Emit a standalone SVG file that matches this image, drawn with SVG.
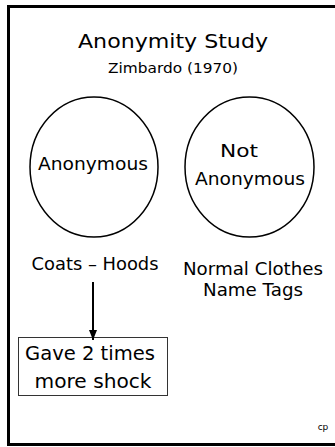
<svg xmlns="http://www.w3.org/2000/svg" width="335" height="447" viewBox="0 0 335 447">
<style>
text{font-family:"DejaVu Sans","Liberation Sans",sans-serif;fill:#000;text-anchor:middle}
.node{fill:#fff;stroke:#000;stroke-width:1.5}
</style>
<defs>
<marker id="ah" markerWidth="10" markerHeight="8" refX="10" refY="4" orient="auto" markerUnits="userSpaceOnUse" viewBox="0 0 10 8">
<path d="M0,0 L10,4 L0,8 Z" fill="#000"/>
</marker>
</defs>
<rect x="0" y="0" width="335" height="447" fill="#fff"/>
<path d="M335,6.5 H8.5 V444.5 H335" fill="none" stroke="#000" stroke-width="3"/>
<g id="title">
<text x="173" y="48" font-size="20" textLength="190" lengthAdjust="spacingAndGlyphs">Anonymity Study</text>
<text x="173" y="73" font-size="14" textLength="130" lengthAdjust="spacingAndGlyphs">Zimbardo (1970)</text>
</g>
<g id="anonymous">
<ellipse class="node" cx="94" cy="167" rx="64" ry="70"/>
<text x="93" y="170" font-size="18" textLength="110" lengthAdjust="spacingAndGlyphs">Anonymous</text>
</g>
<g id="not-anonymous">
<ellipse class="node" cx="249.5" cy="167" rx="64.5" ry="70"/>
<text x="239" y="157" font-size="18" textLength="38" lengthAdjust="spacingAndGlyphs">Not</text>
<text x="250" y="185" font-size="18" textLength="110" lengthAdjust="spacingAndGlyphs">Anonymous</text>
</g>
<g id="coats-hoods">
<text x="95" y="270" font-size="18" textLength="127" lengthAdjust="spacingAndGlyphs">Coats – Hoods</text>
</g>
<g id="normal-clothes">
<text x="253" y="275" font-size="18" textLength="140" lengthAdjust="spacingAndGlyphs">Normal Clothes</text>
<text x="253" y="296" font-size="18" textLength="100" lengthAdjust="spacingAndGlyphs">Name Tags</text>
</g>
<g id="result">
<rect x="18.5" y="337.5" width="149" height="58" fill="#fff" stroke="#333" stroke-width="1"/>
<text x="90" y="360" font-size="20" textLength="130" lengthAdjust="spacingAndGlyphs">Gave 2 times</text>
<text x="93" y="388" font-size="20" textLength="117" lengthAdjust="spacingAndGlyphs">more shock</text>
</g>
<g id="connectors">
<line x1="93" y1="282" x2="93" y2="340" stroke="#000" stroke-width="2" marker-end="url(#ah)"/>
</g>
<text x="323" y="430" font-size="9">cp</text>
</svg>
